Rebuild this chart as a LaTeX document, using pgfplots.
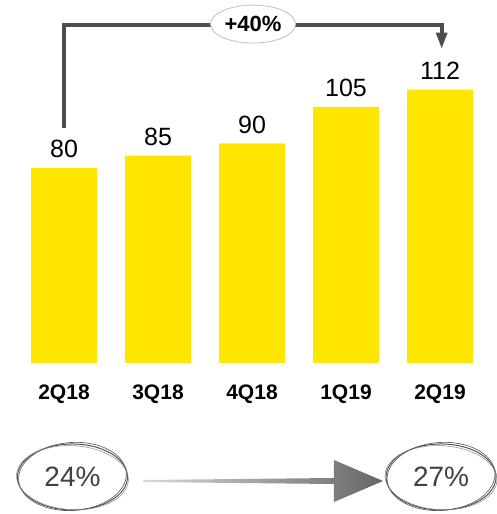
\documentclass[border=0pt]{standalone}
\usepackage{pgfplots}
\pgfplotsset{compat=1.18}
\usetikzlibrary{shapes.geometric}
\usepackage{fontspec}
\setmainfont{Liberation Sans}
\definecolor{baryellow}{HTML}{FFE600}
\definecolor{bracket}{HTML}{4D4D4D}
\definecolor{pcttext}{HTML}{404040}
\definecolor{sketch}{HTML}{555555}

\begin{document}
\begin{tikzpicture}
\useasboundingbox (0,0) rectangle (497pt,514pt);
\begin{axis}[
    at={(0pt,151pt)}, anchor=south west,
    scale only axis,
    width=497pt, height=363pt,
    xmin=-0.6809, xmax=4.6064,
    ymin=0, ymax=148.77,
    ybar, bar width=66pt,
    axis line style={draw=none},
    tick style={draw=none},
    ytick=\empty,
    xtick=data,
    xticklabels={2Q18,3Q18,4Q18,1Q19,2Q19},
    xticklabel style={font=\fontsize{21}{24}\selectfont\bfseries, anchor=base, yshift=-32.7pt},
    /pgf/number format/assume math mode=true,
    nodes near coords,
    every node near coord/.append style={font=\fontsize{25}{28}\selectfont, anchor=base, yshift=10pt},
    clip=false,
]
\addplot[fill=baryellow, draw=none] coordinates {(0,80) (1,85) (2,90) (3,105) (4,112)};

% growth bracket
\draw[bracket, line width=4pt, line join=miter]
    (axis cs:0,96.3) -- (axis cs:0,138.7) -- (axis cs:4.018,138.7) -- (axis cs:4.018,134.6);
\fill[bracket] ([xshift=-6pt]axis cs:4.018,135.4) -- ([xshift=6pt]axis cs:4.018,135.4)
    -- (axis cs:4.018,129.1) -- cycle;
\node[ellipse, draw=gray!50, line width=0.8pt, fill=white, minimum width=85pt, minimum height=38pt,
      inner sep=0pt, font=\fontsize{22}{24}\selectfont\bfseries]
    at (axis cs:2.011,138.9) {+40\%};

% margin arrow
\shade[left color=gray!30, right color=gray!80!black]
    (axis cs:0.84,-47.95) -- (axis cs:2.872,-47.13) -- (axis cs:2.872,-39.75)
    -- (axis cs:3.394,-48.36) -- (axis cs:2.872,-56.97) -- (axis cs:2.872,-49.59)
    -- (axis cs:0.84,-48.77) -- cycle;

% sketchy ellipses
\draw[sketch, line width=1pt] (axis cs:0.090,-46.7) ellipse [x radius=55pt, y radius=33pt];
\draw[sketch, line width=0.6pt, rotate around={4:(axis cs:0.090,-46.7)}] (axis cs:0.090,-46.5) ellipse [x radius=54pt, y radius=34pt];
\draw[sketch!70, line width=0.5pt, rotate around={-3:(axis cs:0.090,-46.7)}] (axis cs:0.090,-47.0) ellipse [x radius=56pt, y radius=32pt];
\draw[sketch, line width=1pt] (axis cs:4.011,-46.7) ellipse [x radius=55pt, y radius=33pt];
\draw[sketch, line width=0.6pt, rotate around={4:(axis cs:4.011,-46.7)}] (axis cs:4.011,-46.5) ellipse [x radius=54pt, y radius=34pt];
\draw[sketch!70, line width=0.5pt, rotate around={-3:(axis cs:4.011,-46.7)}] (axis cs:4.011,-47.0) ellipse [x radius=56pt, y radius=32pt];
\node[text=pcttext, font=\fontsize{28}{32}\selectfont] at (axis cs:0.090,-46.7) {24\%};
\node[text=pcttext, font=\fontsize{28}{32}\selectfont] at (axis cs:4.011,-46.7) {27\%};
\end{axis}
\end{tikzpicture}
\end{document}
